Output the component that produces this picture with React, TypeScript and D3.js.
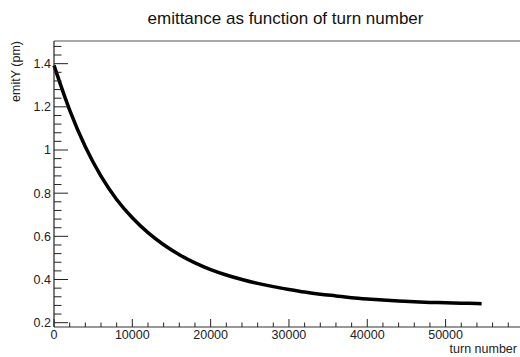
import * as d3 from "d3";
import { useEffect, useRef } from "react";

// turn number
const turns = [
    0, 2000, 4000, 6000, 8000, 10000, 12000, 14000, 16000, 18000, 20000,
    22000, 24000, 26000, 28000, 30000, 32000, 34000, 36000, 38000, 40000,
    42000, 44000, 46000, 48000, 50000, 52000, 54000, 54600,
];
// emitY (pm)
const emitY = [
    1.392, 1.185, 1.015, 0.879, 0.771, 0.686, 0.617, 0.561, 0.515, 0.477, 0.446,
    0.421, 0.400, 0.382, 0.367, 0.354, 0.342, 0.332, 0.324, 0.316, 0.310,
    0.305, 0.301, 0.297, 0.294, 0.292, 0.290, 0.289, 0.288,
];
const xTicks = [0, 10000, 20000, 30000, 40000, 50000];
const yTicks = [0.2, 0.4, 0.6, 0.8, 1.0, 1.2, 1.4];

const W = 520;
const H = 357;
const FONT = "'Liberation Sans', Arial, Helvetica, sans-serif";

const App: React.FC = () => {
    const svgRef = useRef<SVGSVGElement | null>(null);

    useEffect(() => {
        document.body.style.margin = "0";
        const svg = d3.select(svgRef.current);
        svg.selectAll("*").remove();

        const left = 54, right = 520, top = 41, bottom = 327;
        const x = d3.scaleLinear().domain([0, 59500]).range([left, right]);
        const y = d3.scaleLinear().domain([0.18, 1.505]).range([bottom, top]);

        // frame top line
        svg.append("line")
            .attr("x1", left).attr("x2", W)
            .attr("y1", top).attr("y2", top)
            .attr("stroke", "#555").attr("stroke-width", 1.2);

        // curve
        const pts = turns.map((t, i) => [t, emitY[i]] as [number, number]);
        const line = d3.line<[number, number]>()
            .x(d => x(d[0]))
            .y(d => y(d[1]))
            .curve(d3.curveMonotoneX);
        svg.append("path")
            .datum(pts)
            .attr("d", line)
            .attr("fill", "none")
            .attr("stroke", "black")
            .attr("stroke-width", 3.5);

        // x axis
        const gx = svg.append("g");
        gx.append("line")
            .attr("x1", left).attr("x2", W)
            .attr("y1", bottom).attr("y2", bottom)
            .attr("stroke", "#333").attr("stroke-width", 1.2);
        d3.range(0, 60000, 2000).forEach(v => {
            const major = v % 10000 === 0;
            gx.append("line")
                .attr("x1", x(v)).attr("x2", x(v))
                .attr("y1", bottom).attr("y2", bottom - (major ? 8 : 4.5))
                .attr("stroke", "#222").attr("stroke-width", 1);
        });
        gx.selectAll("text.xt")
            .data(xTicks)
            .join("text")
            .attr("x", d => x(d))
            .attr("y", 338.5)
            .attr("text-anchor", "middle")
            .attr("font-family", FONT)
            .attr("font-size", "12.5px")
            .attr("fill", "#222")
            .text(d => String(d));
        gx.append("text")
            .attr("x", 517)
            .attr("y", 353)
            .attr("text-anchor", "end")
            .attr("font-family", FONT)
            .attr("font-size", "12.5px")
            .attr("fill", "#222")
            .text("turn number");

        // y axis
        const gy = svg.append("g");
        gy.append("line")
            .attr("x1", left).attr("x2", left)
            .attr("y1", top).attr("y2", bottom)
            .attr("stroke", "#222").attr("stroke-width", 1.2);
        d3.range(0, 33).forEach(i => {
            const v = 0.2 + i * 0.04;
            const major = i % 5 === 0;
            gy.append("line")
                .attr("x1", left).attr("x2", left + (major ? 14 : 7.5))
                .attr("y1", y(v)).attr("y2", y(v))
                .attr("stroke", "#222").attr("stroke-width", 1);
        });
        gy.selectAll("text.yt")
            .data(yTicks)
            .join("text")
            .attr("x", 51)
            .attr("y", d => y(d))
            .attr("dy", "0.35em")
            .attr("text-anchor", "end")
            .attr("font-family", FONT)
            .attr("font-size", "12.5px")
            .attr("fill", "#222")
            .text(d => d3.format("~g")(d));
        gy.append("text")
            .attr("transform", `translate(19.5, ${top}) rotate(-90)`)
            .attr("text-anchor", "end")
            .attr("font-family", FONT)
            .attr("font-size", "12.5px")
            .attr("fill", "#222")
            .text("emitY (pm)");

        // title
        svg.append("text")
            .attr("x", 285.5)
            .attr("y", 24)
            .attr("text-anchor", "middle")
            .attr("font-family", FONT)
            .attr("font-size", "17px")
            .attr("fill", "#111")
            .text("emittance as function of turn number");
    }, []);

    return (
        <div style={{ width: W, height: H }}>
            <svg ref={svgRef} width={W} height={H} style={{ display: "block", background: "white" }}></svg>
        </div>
    );
};

export default App;
